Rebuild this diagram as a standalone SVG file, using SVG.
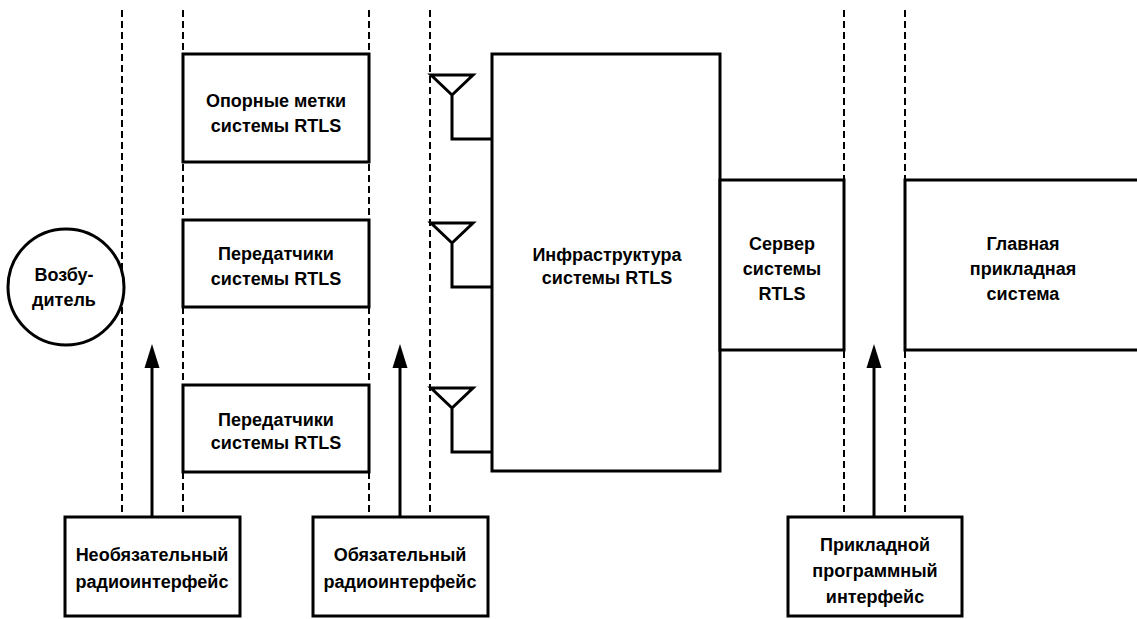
<svg xmlns="http://www.w3.org/2000/svg" width="1137" height="619" viewBox="0 0 1137 619">
<style>
.box{fill:#fff;stroke:#000;stroke-width:3}
.dash{stroke:#000;stroke-width:2;stroke-dasharray:7 4;fill:none}
.ln{stroke:#000;stroke-width:3;fill:none}
.ah{fill:#000;stroke:none}
.t{font-family:"Liberation Sans",Arial,sans-serif;font-size:18px;font-weight:bold;fill:#000;text-anchor:middle}
</style>
<rect width="1137" height="619" fill="#fff"/>
<g id="connectors">
<line class="dash" x1="122" y1="10" x2="122" y2="517"/>
<line class="dash" x1="183" y1="10" x2="183" y2="517"/>
<line class="dash" x1="369" y1="10" x2="369" y2="517"/>
<line class="dash" x1="430" y1="10" x2="430" y2="517"/>
<line class="dash" x1="844" y1="10" x2="844" y2="517"/>
<line class="dash" x1="905" y1="10" x2="905" y2="517"/>
<line class="ln" x1="152" y1="517" x2="152" y2="365"/>
<path class="ah" d="M152,344 L159.5,368 L144.5,368 Z"/>
<line class="ln" x1="400" y1="517" x2="400" y2="365"/>
<path class="ah" d="M400,344 L407.5,368 L392.5,368 Z"/>
<line class="ln" x1="874" y1="517" x2="874" y2="365"/>
<path class="ah" d="M874,344 L881.5,368 L866.5,368 Z"/>
<path class="ln" d="M431,75 L473,75 L452,95 Z M452,95 L452,139 L492,139"/>
<path class="ln" d="M431,223 L473,223 L452,243 Z M452,243 L452,287 L492,287"/>
<path class="ln" d="M431,388 L473,388 L452,408 Z M452,408 L452,452 L492,452"/>
</g>
<g id="exciter">
<circle class="box" cx="66" cy="287" r="58"/>
<text class="t" x="64" y="281">Возбу-</text>
<text class="t" x="64" y="306">дитель</text>
</g>
<g id="ref-tags">
<rect class="box" x="183" y="54" width="186" height="108"/>
<text class="t" x="276" y="107">Опорные метки</text>
<text class="t" x="276" y="132">системы RTLS</text>
</g>
<g id="tx1">
<rect class="box" x="183" y="220" width="186" height="87"/>
<text class="t" x="276" y="260">Передатчики</text>
<text class="t" x="276" y="285">системы RTLS</text>
</g>
<g id="tx2">
<rect class="box" x="183" y="385" width="186" height="87"/>
<text class="t" x="276" y="426">Передатчики</text>
<text class="t" x="276" y="449">системы RTLS</text>
</g>
<g id="infra">
<rect class="box" x="492" y="54" width="228" height="417"/>
<text class="t" x="607" y="261">Инфраструктура</text>
<text class="t" x="607" y="284">системы RTLS</text>
</g>
<g id="server">
<rect class="box" x="720" y="180" width="124" height="170"/>
<text class="t" x="782" y="250">Сервер</text>
<text class="t" x="782" y="275">системы</text>
<text class="t" x="782" y="300">RTLS</text>
</g>
<g id="host">
<path class="box" d="M1137,180 L905,180 L905,350 L1137,350"/>
<text class="t" x="1023" y="250">Главная</text>
<text class="t" x="1023" y="275">прикладная</text>
<text class="t" x="1023" y="300">система</text>
</g>
<g id="opt-air">
<rect class="box" x="65" y="517" width="175" height="99"/>
<text class="t" x="152" y="561">Необязательный</text>
<text class="t" x="152" y="588">радиоинтерфейс</text>
</g>
<g id="mand-air">
<rect class="box" x="313" y="517" width="175" height="99"/>
<text class="t" x="400" y="561">Обязательный</text>
<text class="t" x="400" y="588">радиоинтерфейс</text>
</g>
<g id="api">
<rect class="box" x="788" y="517" width="174" height="99"/>
<text class="t" x="875" y="551">Прикладной</text>
<text class="t" x="875" y="577">программный</text>
<text class="t" x="875" y="603">интерфейс</text>
</g>
</svg>
